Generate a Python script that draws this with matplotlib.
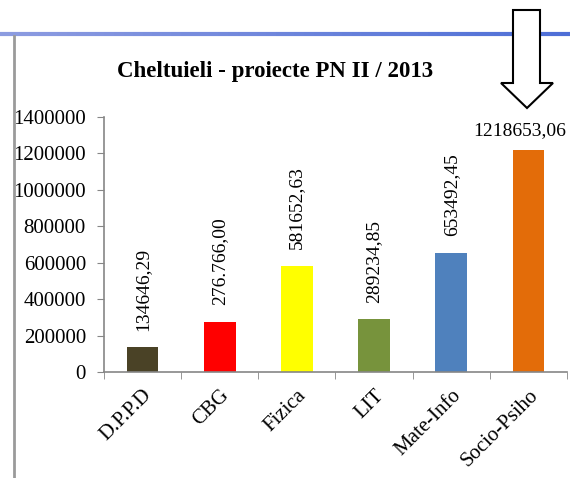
import matplotlib.pyplot as plt
import numpy as np
from matplotlib.patches import Polygon
from matplotlib.lines import Line2D

plt.rcParams["font.family"] = ["Liberation Serif", "DejaVu Serif"]

categories = ["D.P.P.D", "CBG", "Fizica", "LIT", "Mate-Info", "Socio-Psiho"]
values = [134646.29, 276766.00, 581652.63, 289234.85, 653492.45, 1218653.06]
value_labels = ["134646,29", "276.766,00", "581652,63", "289234,85", "653492,45", "1218653,06"]
bar_colors = ["#4a4226", "#ff0000", "#ffff00", "#77933c", "#4f81bd", "#e36c09"]
yticks = [0, 200000, 400000, 600000, 800000, 1000000, 1200000, 1400000]

W, H = 570, 478
fig = plt.figure(figsize=(W / 100, H / 100), dpi=100)


def fx(px):
    return px / W


def fy(py):
    return 1 - py / H


# slide decorations: blue rule on top, grey frame on the left
n = 60
xs = np.linspace(0, 1, n + 1)
for i in range(n):
    t = i / n
    c = (0.55 - 0.25 * t, 0.61 - 0.18 * t, 0.88 - 0.04 * t)
    fig.add_artist(Line2D([xs[i], xs[i + 1]], [fy(33.5), fy(33.5)], color=c, lw=3,
                          transform=fig.transFigure, solid_capstyle="butt"))
fig.add_artist(Line2D([fx(13.5), fx(13.5)], [fy(36), 0], color="#9a9a9a", lw=2,
                      transform=fig.transFigure))

ax = fig.add_axes([fx(104), fy(372), fx(567 - 104), fy(117) - fy(372)])
x = np.arange(len(categories))
bars = ax.bar(x, values, width=0.41, color=bar_colors, zorder=2)

ax.set_xlim(-0.5, len(categories) - 0.5)
ax.set_ylim(0, 1400000)
ax.set_yticks(yticks)
ax.set_yticklabels([str(v) for v in yticks], fontsize=15)
ax.set_xticks(x)
ax.set_xticklabels(categories, rotation=45, ha="right", rotation_mode="anchor", fontsize=15)
ax.set_xticks(np.arange(len(categories) + 1) - 0.5, minor=True)
ax.tick_params(axis="x", which="major", length=0, pad=10)
ax.tick_params(axis="x", which="minor", length=5, color="#868686", direction="out")
ax.tick_params(axis="y", length=5, color="#868686", pad=8)
for s in ["top", "right"]:
    ax.spines[s].set_visible(False)
for s in ["left", "bottom"]:
    ax.spines[s].set_color("#868686")
    ax.spines[s].set_linewidth(1.2)

for i, (b, lab) in enumerate(zip(bars, value_labels)):
    top = b.get_height()
    cx = b.get_x() + b.get_width() / 2
    if i == len(bars) - 1:
        ax.annotate(lab, (cx, top), xytext=(-6.5, 8), textcoords="offset points",
                    ha="center", va="bottom", fontsize=14)
    else:
        ax.annotate(lab, (cx, top), xytext=(0, 12), textcoords="offset points",
                    ha="center", va="bottom", rotation=90, fontsize=14)

fig.text(fx(275), fy(72), "Cheltuieli - proiecte PN II / 2013", ha="center", va="center",
         fontsize=16.5, fontweight="bold")

# down arrow outline
arrow_px = [(513, 10), (540, 10), (540, 83), (553, 83), (527, 108),
            (501, 83), (513, 83)]
fig.add_artist(Polygon([(fx(a), fy(b)) for a, b in arrow_px], closed=True,
                       facecolor="white", edgecolor="black", lw=1.5,
                       transform=fig.transFigure, zorder=5))

fig.savefig("out.png", dpi=100)
